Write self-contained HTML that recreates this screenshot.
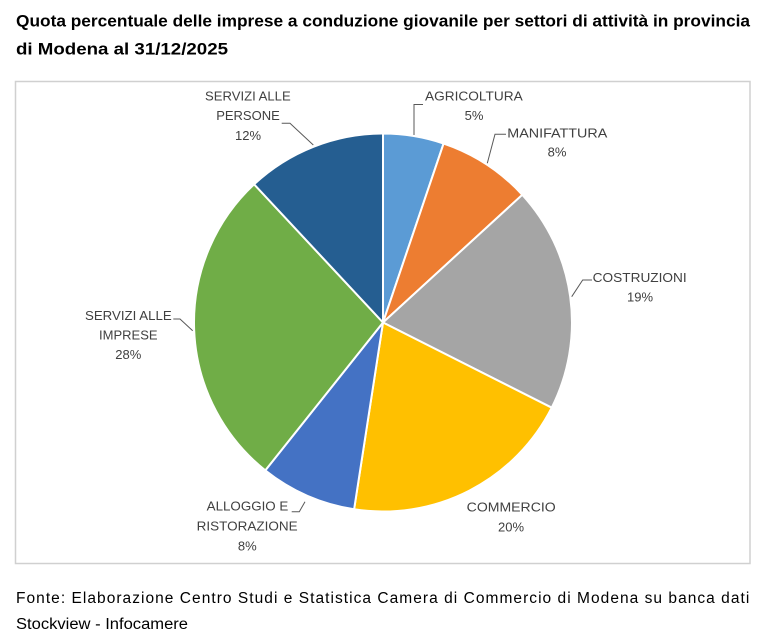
<!DOCTYPE html>
<html>
<head>
<meta charset="utf-8">
<style>
  html, body { margin: 0; padding: 0; background: #ffffff; }
  svg { display: block; }
  .lbl { font-family: "Liberation Sans", sans-serif; font-size: 13px; fill: #404040; }
</style>
</head>
<body>
<svg width="768" height="643" viewBox="0 0 768 643" xmlns="http://www.w3.org/2000/svg">
  <rect x="0" y="0" width="768" height="643" fill="#ffffff"/>

  <!-- Title -->
  <text x="16" y="26.7" font-family="Liberation Sans, sans-serif" font-weight="bold" font-size="16.5" fill="#000" textLength="734" lengthAdjust="spacingAndGlyphs">Quota percentuale delle imprese a conduzione giovanile per settori di attività in provincia</text>
  <text x="16" y="54.3" font-family="Liberation Sans, sans-serif" font-weight="bold" font-size="16.5" fill="#000" textLength="212" lengthAdjust="spacingAndGlyphs">di Modena al 31/12/2025</text>

  <!-- Chart box -->
  <rect x="15.5" y="81.5" width="734.5" height="482" fill="#ffffff" stroke="#d0d0d0" stroke-width="1.5"/>

  <!-- Pie -->
  <g stroke="#ffffff" stroke-width="2" stroke-linejoin="round">
    <path d="M383,322.5 L383,133.5 A189,189 0 0,1 443.6,143.5 Z" fill="#5B9BD5"/>
    <path d="M383,322.5 L443.6,143.5 A189,189 0 0,1 522.3,194.8 Z" fill="#ED7D31"/>
    <path d="M383,322.5 L522.3,194.8 A189,189 0 0,1 551.7,407.7 Z" fill="#A5A5A5"/>
    <path d="M383,322.5 L551.7,407.7 A189,189 0 0,1 354.1,509.3 Z" fill="#FFC000"/>
    <path d="M383,322.5 L354.1,509.3 A189,189 0 0,1 265.3,470.4 Z" fill="#4472C4"/>
    <path d="M383,322.5 L265.3,470.4 A189,189 0 0,1 254.1,184.3 Z" fill="#70AD47"/>
    <path d="M383,322.5 L254.1,184.3 A189,189 0 0,1 383,133.5 Z" fill="#255E91"/>
  </g>

  <!-- Leader lines -->
  <g stroke="#595959" stroke-width="1" fill="none">
    <polyline points="414,135 414,104.5 423,104.5"/>
    <polyline points="487.3,163.3 495,134.3 506,134.3"/>
    <polyline points="571.7,296.7 582.7,280 592,280"/>
    <polyline points="173.3,319 180,319 192.7,330.7"/>
    <polyline points="291.7,511.7 299.3,511.7 305,501.7"/>
    <polyline points="281.7,123.3 290,123.3 313.3,145"/>
  </g>

  <!-- Labels -->
  <text class="lbl" x="425" y="100.7" textLength="97.7" lengthAdjust="spacingAndGlyphs">AGRICOLTURA</text>
  <text class="lbl" x="474" y="120" text-anchor="middle">5%</text>

  <text class="lbl" x="507.3" y="137.3" textLength="100" lengthAdjust="spacingAndGlyphs">MANIFATTURA</text>
  <text class="lbl" x="557" y="156.5" text-anchor="middle">8%</text>

  <text class="lbl" x="592.7" y="282" textLength="94" lengthAdjust="spacingAndGlyphs">COSTRUZIONI</text>
  <text class="lbl" x="640" y="301.7" text-anchor="middle">19%</text>

  <text class="lbl" x="466.7" y="511.7" textLength="89" lengthAdjust="spacingAndGlyphs">COMMERCIO</text>
  <text class="lbl" x="511" y="531.5" text-anchor="middle">20%</text>

  <text class="lbl" x="206.7" y="510.7" textLength="81.6" lengthAdjust="spacingAndGlyphs">ALLOGGIO E</text>
  <text class="lbl" x="196.7" y="530.7" textLength="101" lengthAdjust="spacingAndGlyphs">RISTORAZIONE</text>
  <text class="lbl" x="247.3" y="550.7" text-anchor="middle">8%</text>

  <text class="lbl" x="85" y="320" textLength="86.7" lengthAdjust="spacingAndGlyphs">SERVIZI ALLE</text>
  <text class="lbl" x="128.3" y="339.5" text-anchor="middle">IMPRESE</text>
  <text class="lbl" x="128.3" y="359" text-anchor="middle">28%</text>

  <text class="lbl" x="205" y="100.7" textLength="85.7" lengthAdjust="spacingAndGlyphs">SERVIZI ALLE</text>
  <text class="lbl" x="248" y="120" text-anchor="middle">PERSONE</text>
  <text class="lbl" x="248" y="140" text-anchor="middle">12%</text>

  <!-- Footer -->
  <text x="16" y="603" font-family="Liberation Sans, sans-serif" font-size="15.5" fill="#000" textLength="733.3" lengthAdjust="spacing">Fonte: Elaborazione Centro Studi e Statistica Camera di Commercio di Modena su banca dati</text>
  <text x="16" y="629" font-family="Liberation Sans, sans-serif" font-size="15.5" fill="#000" textLength="172" lengthAdjust="spacingAndGlyphs">Stockview - Infocamere</text>
</svg>
</body>
</html>
